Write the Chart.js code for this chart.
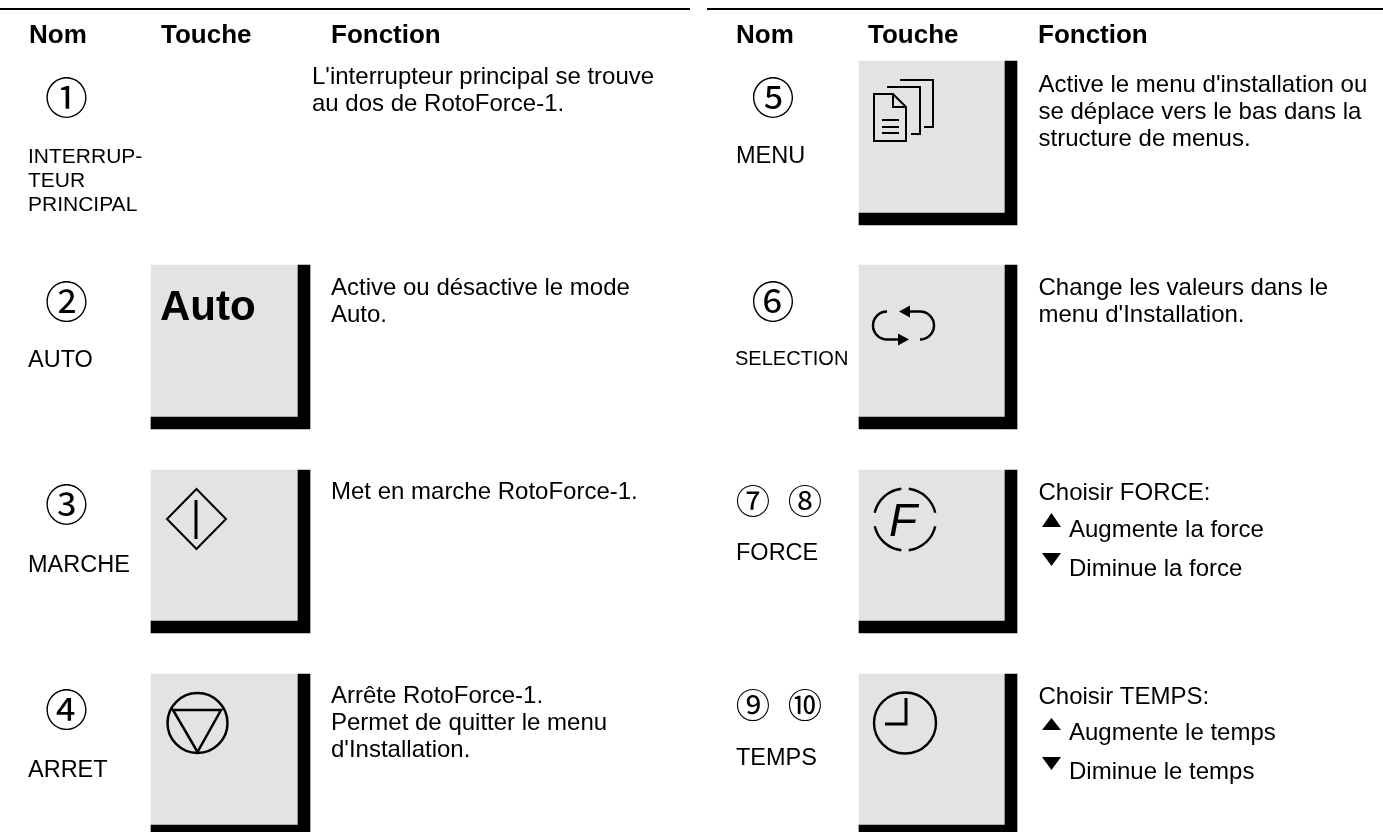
<!DOCTYPE html>
<html><head><meta charset="utf-8">
<style>html,body{margin:0;padding:0;background:#fff}#w{position:relative;width:1383px;height:832px}</style>
<script src="https://cdn.jsdelivr.net/npm/chart.js@4"></script></head>
<body><div id="w"><canvas id="c" width="1383" height="832"></canvas></div>
<script>
// ---- content ----
const headers = ["Nom","Touche","Fonction"];
const circled = ["①","②","③","④","⑤","⑥","⑦","⑧","⑨","⑩"];
const names = [["INTERRUP-","TEUR","PRINCIPAL"],["AUTO"],["MARCHE"],["ARRET"],["MENU"],["SELECTION"],["FORCE"],["TEMPS"]];
const functions = [
 ["L'interrupteur principal se trouve","au dos de RotoForce-1."],
 ["Active ou désactive le mode","Auto."],
 ["Met en marche RotoForce-1."],
 ["Arrête RotoForce-1.","Permet de quitter le menu","d'Installation."],
 ["Active le menu d'installation ou","se déplace vers le bas dans la","structure de menus."],
 ["Change les valeurs dans le","menu d'Installation."],
 ["Choisir FORCE:"],
 ["Choisir TEMPS:"]
];
const arrowLines = [["Augmente la force","Diminue la force"],["Augmente le temps","Diminue le temps"]];
// ---- key panels ----
const leftKeyTop = [265,470,674];
const leftKeyBottom = [429,633,837];
const rightKeyTop = [61,265,470,674];
const rightKeyBottom = [225,429,633,837];
const ruleSegments = [[0,690,9],[707,1383,9]];

const sans = '"Liberation Sans", Arial, sans-serif';

function panelSets(tops,bottoms,x0,x1,x2){
  const sh=12;
  return [
   {data:tops.map((t,i)=>({x:(x1+x2)/2,y:[t,bottoms[i]]})),backgroundColor:'#000',barThickness:x2-x1,grouped:false},
   {data:tops.map((t,i)=>({x:(x0+x1)/2,y:[bottoms[i]-sh,bottoms[i]]})),backgroundColor:'#000',barThickness:x1-x0,grouped:false},
   {data:tops.map((t,i)=>({x:(x0+x1)/2,y:[t,bottoms[i]-sh]})),backgroundColor:'#e3e3e3',barThickness:x1-x0,grouped:false}
  ];
}

const overlay = {
 id:'overlay',
 afterDatasetsDraw(chart){
  const c = chart.ctx, X = v=>chart.scales.x.getPixelForValue(v), Y = v=>chart.scales.y.getPixelForValue(v);
  const T = (s,x,y,f)=>{c.font=f+' '+sans;c.fillStyle='#000';c.textBaseline='alphabetic';c.textAlign='left';c.fillText(s,X(x),Y(y));};
  c.save();
  // headers
  [[29,161,331],[736,868,1038]].forEach(col=>headers.forEach((h,i)=>T(h,col[i],43,'bold 26px')));
  // circled numbers
  const cp=[[66.5,98,1],[66.5,302,1],[66.5,505,1],[66.5,710,1],[773,98,1],[773,302,1],[753,501,.8],[805,501,.8],[753,705,.8],[805,705,.8]];
  circled.forEach((s,i)=>{c.font=(cp[i][2]*43)+'px "Noto Sans CJK JP"';c.fillStyle='#000';c.textAlign='center';c.textBaseline='middle';c.fillText(s,X(cp[i][0]),Y(cp[i][1]));});
  // names
  const np=[[28,163],[28,367],[28,572],[28,777],[736,163],[735,365],[736,560],[736,765]];
  const nameFont=['21px','23.5px','23.5px','23.5px','23.5px','20px','23.5px','23.5px'];
  names.forEach((l,i)=>l.forEach((s,j)=>T(s,np[i][0],np[i][1]+j*24,nameFont[i])));
  // function text
  const fp=[[312,84],[331,295],[331,499],[331,703],[1038.5,92],[1038.5,295],[1038.5,500],[1038.5,704]];
  functions.forEach((l,i)=>l.forEach((s,j)=>T(s,fp[i][0],fp[i][1]+j*27.2,'24px')));
  // arrows text
  [[1069,537,576,513,527,553,566],[1069,740,779,718,730,757,770]].forEach((a,i)=>{
    T(arrowLines[i][0],a[0],a[1],'24px');T(arrowLines[i][1],a[0],a[2],'24px');
    c.fillStyle='#000';
    c.beginPath();c.moveTo(X(1042),Y(a[4]));c.lineTo(X(1061),Y(a[4]));c.lineTo(X(1051.5),Y(a[3]));c.closePath();c.fill();
    c.beginPath();c.moveTo(X(1042),Y(a[5]));c.lineTo(X(1061),Y(a[5]));c.lineTo(X(1051.5),Y(a[6]));c.closePath();c.fill();
  });
  // icons
  c.strokeStyle='#000';c.lineCap='butt';c.lineJoin='miter';
  const S=(w,fn)=>{c.lineWidth=w;c.beginPath();fn();c.stroke();};
  const M=(x,y)=>c.moveTo(X(x),Y(y)), L=(x,y)=>c.lineTo(X(x),Y(y));
  c.font='bold 42px '+sans;c.fillStyle='#000';c.textAlign='left';c.textBaseline='alphabetic';c.fillText('Auto',X(160),Y(320));
  // start diamond
  S(2,()=>{M(196.5,489);L(226,519);L(196.5,549);L(167,519);c.closePath();});
  S(3,()=>{M(196,500);L(196,539);});
  // stop
  S(2.5,()=>{c.arc(X(197.5),Y(723),30,0,Math.PI*2);M(173,710);L(221,710);L(197.5,752);c.closePath();});
  // menu doc
  S(2,()=>{M(890,141);L(874,141);L(874,94);L(893,94);L(906,107);L(906,141);L(890,141);M(893,94);L(893,107);L(906,107);});
  S(2,()=>{M(887,87);L(920,87);L(920,134);L(911,134);M(900,80);L(933,80);L(933,127);L(924,127);});
  S(2,()=>{M(882,120);L(899,120);M(882,127);L(899,127);M(882,133);L(899,133);});
  // select arrows
  S(2.5,()=>{c.arc(X(887),Y(325.5),14,-Math.PI/2,Math.PI/2,true);L(905,339.5);});
  S(2.5,()=>{M(908,311.5);c.arc(X(920),Y(325.5),14,-Math.PI/2,Math.PI/2);});
  c.fillStyle='#000';
  c.beginPath();c.moveTo(X(899),Y(311.5));c.lineTo(X(910),Y(305.5));c.lineTo(X(910),Y(317.5));c.closePath();c.fill();
  c.beginPath();c.moveTo(X(909),Y(339.5));c.lineTo(X(898),Y(333.5));c.lineTo(X(898),Y(345.5));c.closePath();c.fill();
  // F
  c.font='italic 46px '+sans;c.textAlign='left';c.fillText('F',X(889),Y(536));
  const r=31,cx=X(905),cy=Y(519.5);
  [[-1.45,-0.22],[-2.92,-1.69],[0.22,1.45],[1.69,2.92]].forEach(a=>{c.lineWidth=2.4;c.beginPath();c.arc(cx,cy,r,a[0],a[1]);c.stroke();});
  // clock
  S(2.4,()=>{c.ellipse(X(905),Y(723),31,30.5,0,0,Math.PI*2);});
  S(3,()=>{M(906,698);L(906,724);L(885,724);});
  c.restore();
 }
};

new Chart(document.getElementById('c'),{
 type:'bar',
 data:{datasets:[
  ...panelSets(leftKeyTop,leftKeyBottom,151,298,310),
  ...panelSets(rightKeyTop,rightKeyBottom,859,1005,1017),
  ...ruleSegments.map(r=>({type:'line',data:[{x:r[0],y:r[2]},{x:r[1],y:r[2]}],borderColor:'#000',borderWidth:2,pointRadius:0}))
 ]},
 options:{responsive:false,animation:false,events:[],
  layout:{padding:0},
  plugins:{legend:{display:false},tooltip:{enabled:false}},
  scales:{
   x:{type:'linear',min:0,max:1383,display:false,offset:false},
   y:{type:'linear',min:0,max:832,reverse:true,display:false}
  }},
 plugins:[overlay]
});
</script></body></html>
